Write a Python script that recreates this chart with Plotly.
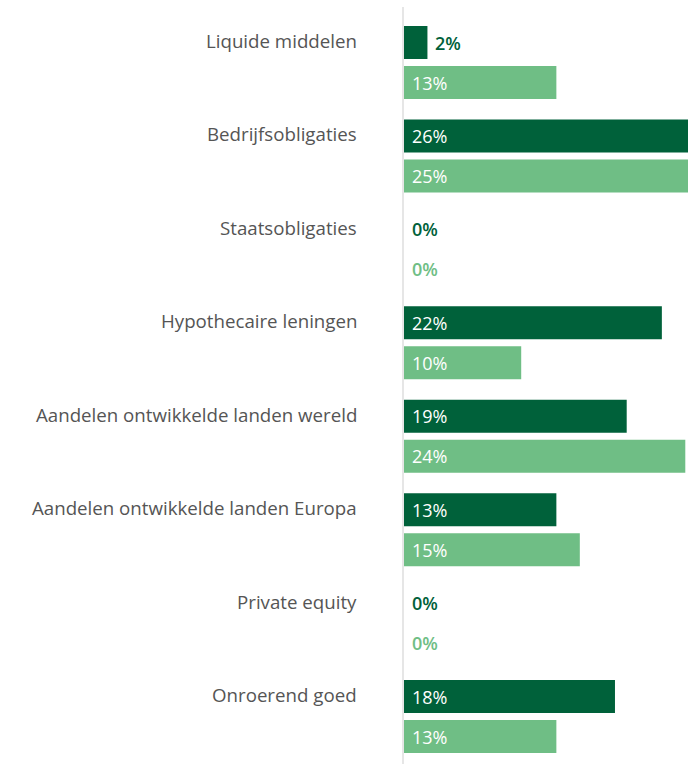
import plotly.graph_objects as go

# Asset classes, top to bottom
categories = [
    "Liquide middelen",
    "Bedrijfsobligaties",
    "Staatsobligaties",
    "Hypothecaire leningen",
    "Aandelen ontwikkelde landen wereld",
    "Aandelen ontwikkelde landen Europa",
    "Private equity",
    "Onroerend goed",
]
# Allocation (%) for the two series
series_dark = [2, 26, 0, 22, 19, 13, 0, 18]
series_light = [13, 25, 0, 10, 24, 15, 0, 13]

dark_color = "#00613a"
light_color = "#6fbe85"
label_color = "#555555"
font_family = "Open Sans"

fig = go.Figure()
fig.add_trace(go.Bar(
    y=categories, x=series_dark, orientation="h",
    marker=dict(color=dark_color, line=dict(width=0)),
    name="Reeks A", hoverinfo="skip",
))
fig.add_trace(go.Bar(
    y=categories, x=series_light, orientation="h",
    marker=dict(color=light_color, line=dict(width=0)),
    name="Reeks B", hoverinfo="skip",
))

annotations = []
# Value labels: inside the bar (white) when wide enough, otherwise just past its end
for values, color, shift in ((series_dark, dark_color, 20), (series_light, light_color, -20)):
    for cat, v in zip(categories, values):
        inside = v >= 5
        annotations.append(dict(
            x=0 if inside else v, y=cat, xref="x", yref="y",
            text=f"{v}%", showarrow=False,
            xanchor="left", yanchor="middle",
            xshift=6, yshift=shift,
            font=dict(family=font_family, size=18,
                      weight=500 if inside else 600,
                      color="white" if inside else color),
        ))

# Category labels, aligned with the first bar of each group
for cat in categories:
    annotations.append(dict(
        x=0, y=cat, xref="paper", yref="y",
        text=cat, showarrow=False,
        xanchor="right", yanchor="middle",
        xshift=-45, yshift=22,
        font=dict(family=font_family, size=18.7, color=label_color),
    ))

fig.update_layout(
    width=688, height=764,
    margin=dict(l=404, r=0, t=7, b=0),
    paper_bgcolor="white", plot_bgcolor="white",
    barmode="group", bargap=0.144, bargroupgap=0.175,
    showlegend=False,
    annotations=annotations,
    xaxis=dict(range=[0, 24.23], visible=False, fixedrange=True),
    yaxis=dict(
        range=[7.508, -0.594], showticklabels=False, showgrid=False,
        zeroline=False, showline=True, linecolor="#e6e6e6", linewidth=2,
        ticks="", fixedrange=True,
    ),
)

fig.write_html("out.html")
